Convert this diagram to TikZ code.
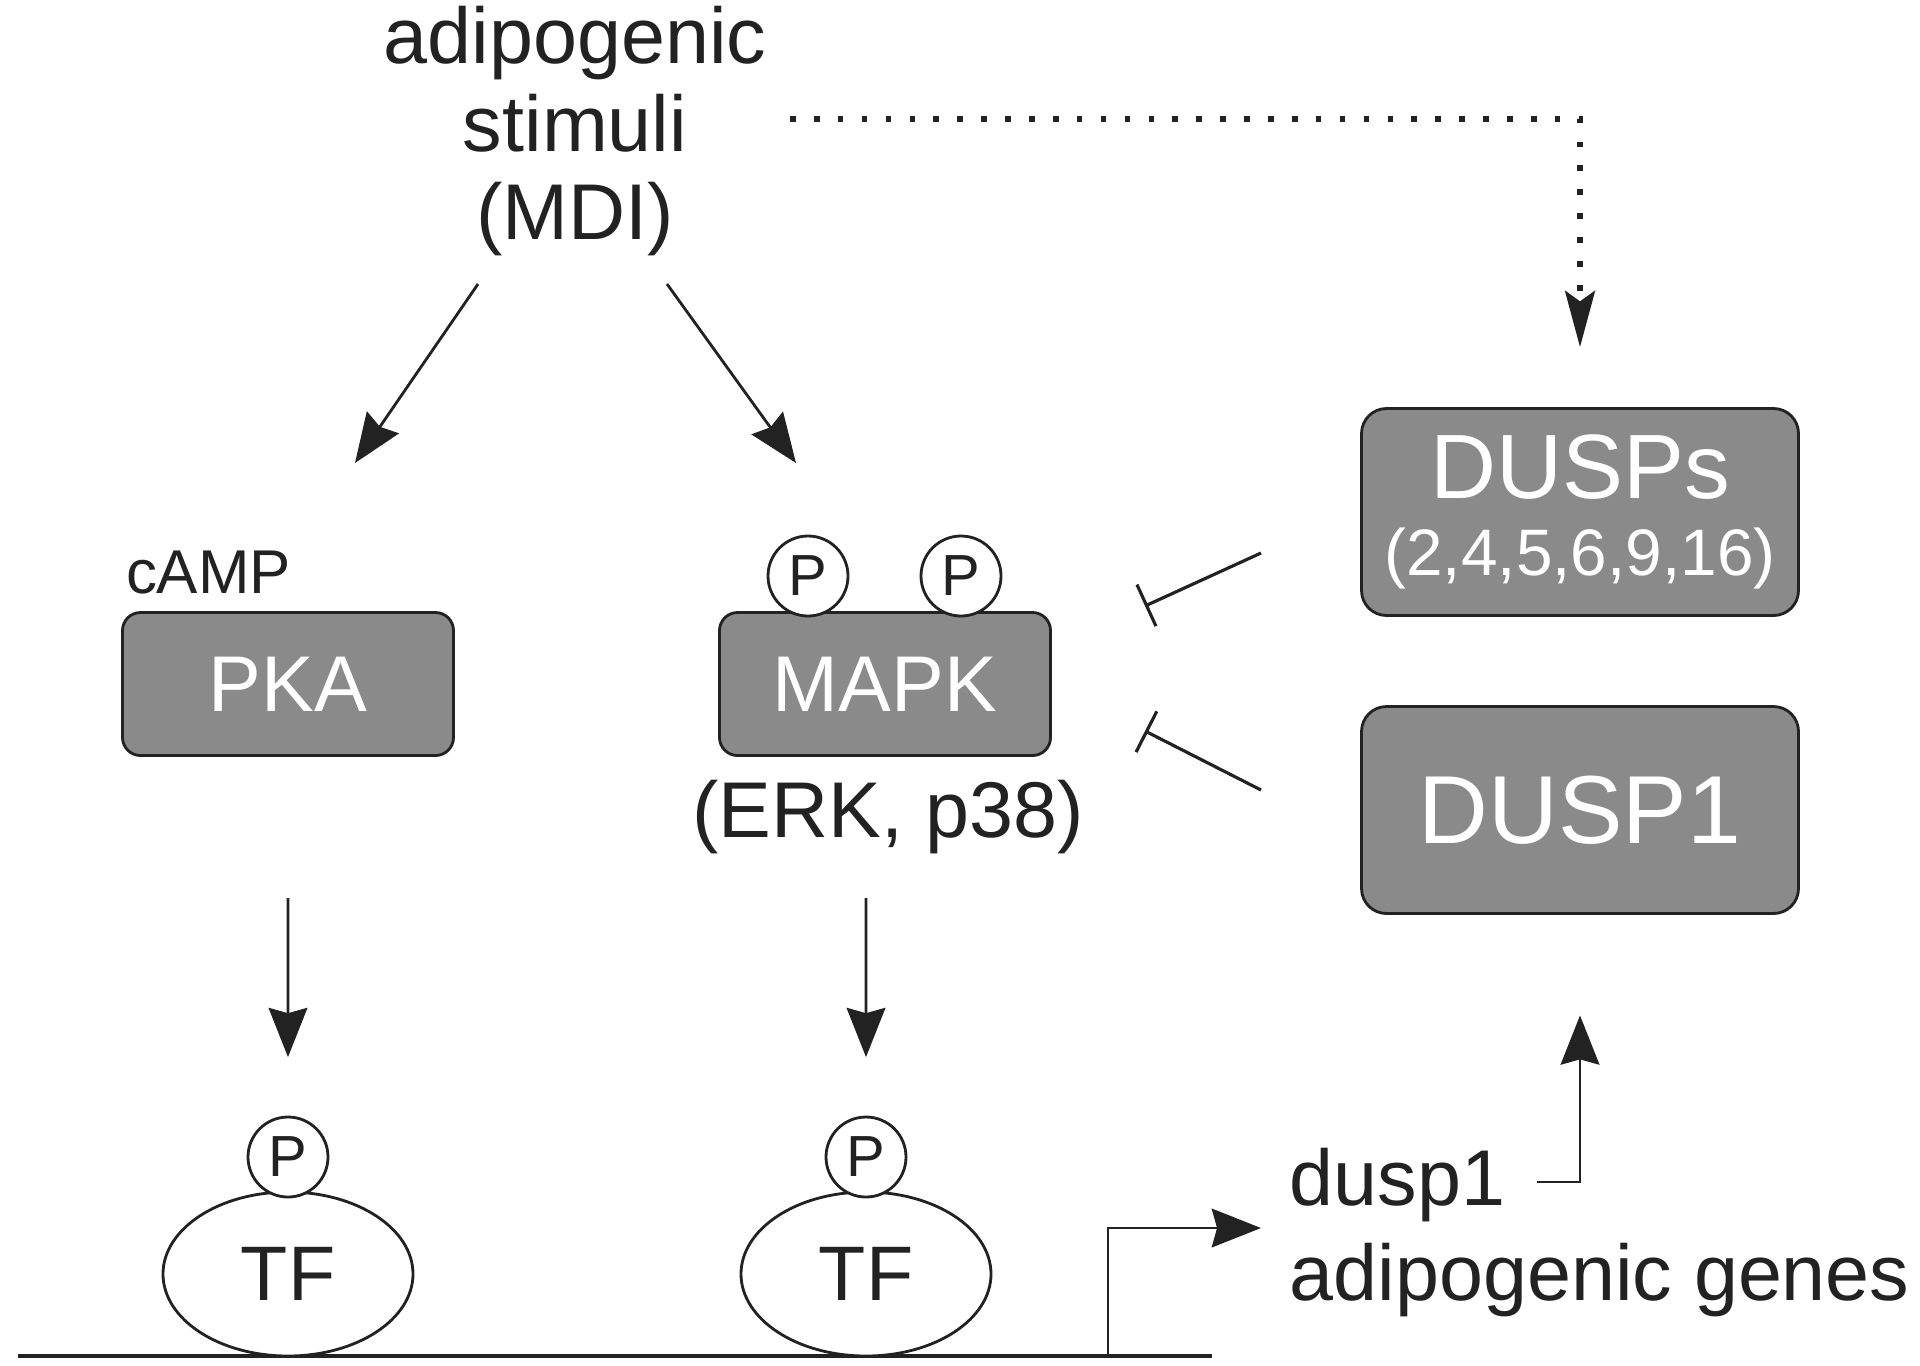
\documentclass[tikz,border=0pt]{standalone}
\usepackage{fontspec}
\setmainfont{Liberation Sans}
\usetikzlibrary{positioning}
\usetikzlibrary{arrows.meta}
\usetikzlibrary{shapes.geometric}
\definecolor{kingray}{HTML}{8A8A8A}
\definecolor{inkgray}{HTML}{222222}
\newcommand{\bigtxt}{\fontsize{22.5}{25}\selectfont}
\tikzset{
	kinase/.style={draw=inkgray, fill=kingray, rectangle, rounded corners=0.18cm, line width=0.8pt, text=white, minimum width=3.31cm, minimum height=1.43cm, font=\bigtxt},
	dusp/.style={kinase, rounded corners=0.25cm, minimum width=4.37cm, minimum height=2.07cm, align=center},
	phos/.style={draw=inkgray, fill=white, circle, inner sep=0pt, minimum size=0.8cm, line width=0.8pt, text=inkgray, font=\fontsize{16.5}{18}\selectfont},
	tfac/.style={draw=inkgray, fill=white, ellipse, inner sep=0pt, minimum width=2.5cm, minimum height=1.64cm, line width=0.8pt, text=inkgray, font=\fontsize{22}{24}\selectfont},
	txt/.style={inner sep=0pt, text=inkgray, font=\bigtxt},
	% dotted feed to the DUSPs
	dotline/.style={line width=1.6pt, dash pattern=on 1.6pt off 5.2pt, -{Stealth[length=16pt, width=8.5pt, inset=3pt]}},
	inhib/.style={line width=0.9pt, -{Bar[width=13pt, line width=0.9pt]}},
}

\begin{document}
\begin{tikzpicture}
		\useasboundingbox (0,0) rectangle (19.2,-13.65);
		
		\node (stim) [txt, align=center] at (5.75,-1.31) {adipogenic\\stimuli\\(MDI)};
		\node (pka) [kinase, below of=stim, xshift=-2.87cm, yshift=-4.53cm] {PKA};
		\node (mapk) [kinase, right of=pka, xshift=4.97cm] {MAPK};
		\node (camp) [txt, above of=pka, xshift=-0.795cm, yshift=0.11cm, font=\fontsize{17.6}{19}\selectfont] {cAMP};
		\node (mP1) [phos, above of=mapk, xshift=-0.77cm, yshift=0.08cm] {P};
		\node (mP2) [phos, above of=mapk, xshift=0.76cm, yshift=0.08cm] {P};
		\node (erk) [txt, below of=mapk, xshift=0.03cm, yshift=-0.33cm] {(ERK, p38)};
		
		\node (dusps) [dusp, right of=mapk, xshift=5.95cm, yshift=1.72cm] {\fontsize{26}{28}\selectfont DUSPs\\[-3pt]{\fontsize{18.7}{21}\selectfont (2,4,5,6,9,16)}};
		\node (dusp1) [dusp, below of=dusps, yshift=-1.98cm, font=\fontsize{27.5}{30}\selectfont] {DUSP1};
		
		\coordinate (dnaL) at (0.18,-13.56);
		\coordinate (dnaR) at (12.12,-13.56);
		\draw[line width=1.2pt, inkgray] (dnaL) -- (dnaR);
		
		\node (tf1) [tfac, below of=pka, yshift=-4.90cm] {TF};
		\node (tP1) [phos, above of=tf1, yshift=0.17cm] {P};
		\node (tf2) [tfac, right of=tf1, xshift=4.78cm] {TF};
		\node (tP2) [phos, above of=tf2, yshift=0.17cm] {P};
		
		\node (gdusp) [txt, right of=tf2, anchor=west, xshift=3.23cm, yshift=0.89cm] {dusp1};
		\node (genes) [txt, right of=tf2, anchor=west, xshift=3.23cm, yshift=-0.06cm] {adipogenic genes};
		
		\coordinate (stimL) at (4.78,-2.84);
		\coordinate (pkaIn) at (3.55,-4.63);
		\coordinate (stimR) at (6.67,-2.84);
		\coordinate (mapkIn) at (7.96,-4.63);
		\coordinate (pkOut) at (2.88,-8.98);
		\coordinate (mkOut) at (8.66,-8.98);
		\coordinate (tss) at (11.08,-13.56);
		\coordinate (tssEnd) at (12.61,-12.28);
		\coordinate (geneOut) at (15.37,-11.82);
		\coordinate (dotIn) at (7.90,-1.19);
		\coordinate (dsIn) at (12.61,-5.53);
		\coordinate (mkTop) at (11.45,-6.06);
		\coordinate (d1In) at (12.61,-7.90);
		\coordinate (mkBot) at (11.45,-7.31);
		
		\begin{scope}[line width=0.8pt, inkgray, -{Stealth[length=14pt, width=11pt, inset=1.5pt]}]
			
			\draw (stimL) -- (pkaIn);
			\draw (stimR) -- (mapkIn);
			\draw[shorten >=0.585cm] (pkOut) -- (tP1);
			\draw[shorten >=0.585cm] (mkOut) -- (tP2);
			\draw (tss) |- (tssEnd);
			\draw[shorten >=1.005cm] (geneOut) -| (dusp1);
			
		\end{scope}
		
		\draw[dotline, inkgray, shorten >=0.6cm] (dotIn) -| (dusps);
		\draw[inhib, inkgray] (dsIn) -- (mkTop);
		\draw[inhib, inkgray] (d1In) -- (mkBot);
		
	\end{tikzpicture}
\end{document}
